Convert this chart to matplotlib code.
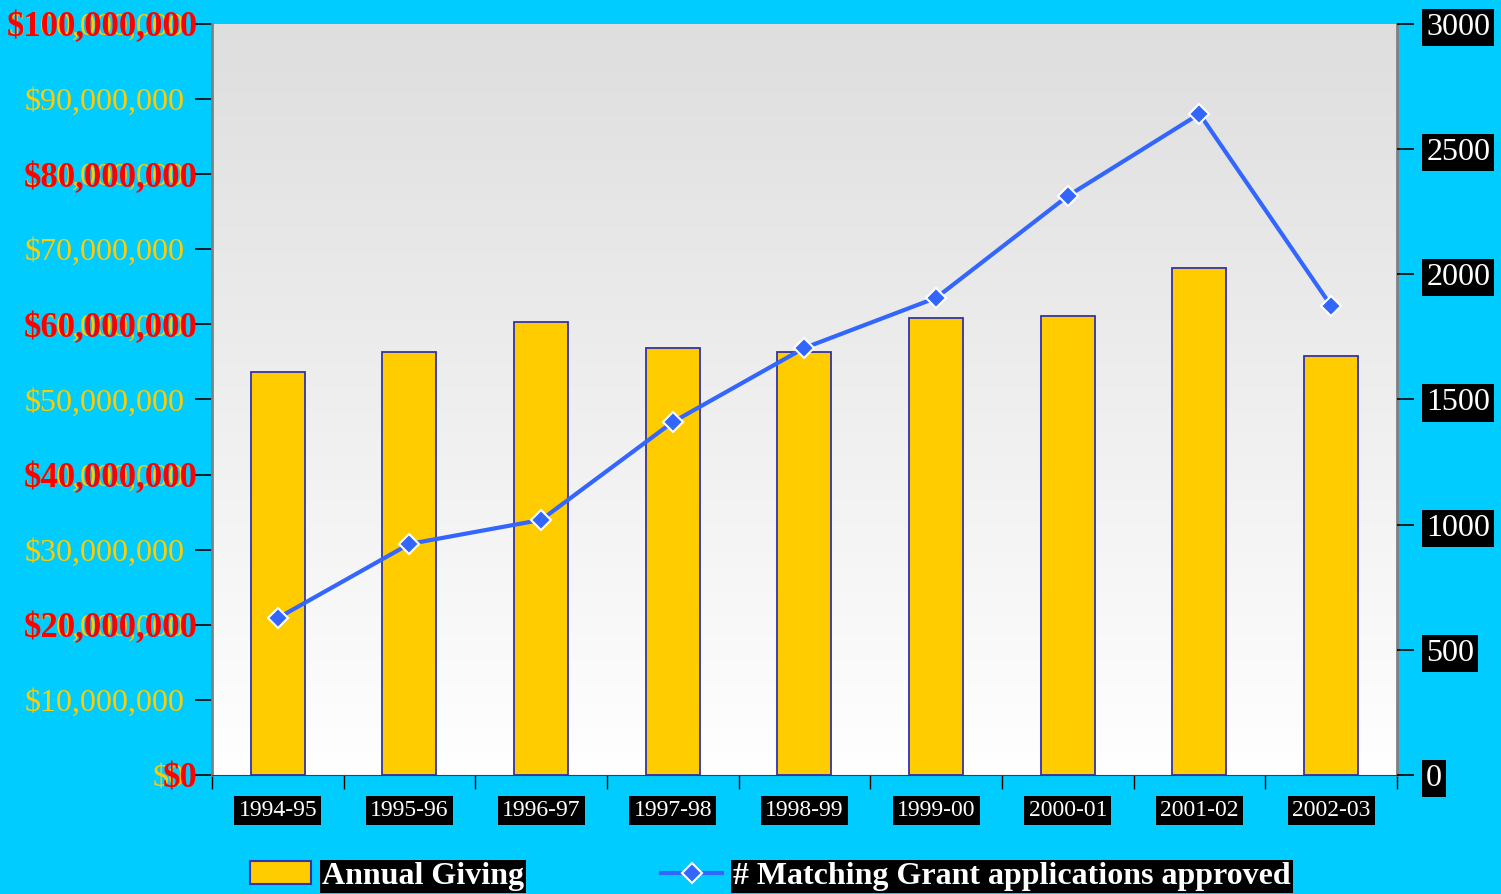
import numpy as np
import matplotlib.pyplot as plt
from matplotlib.patches import Patch
from matplotlib.lines import Line2D
from matplotlib.colors import LinearSegmentedColormap
import matplotlib.transforms as mtransforms

# Dados
anos = ['1994-95', '1995-96', '1996-97', '1997-98', '1998-99',
        '1999-00', '2000-01', '2001-02', '2002-03']
doacoes = [53.7e6, 56.3e6, 60.3e6, 56.9e6, 56.3e6, 60.9e6, 61.1e6, 67.5e6, 55.8e6]
aprovados = [627, 923, 1019, 1410, 1706, 1906, 2313, 2641, 1874]

ticks_esq = np.arange(0, 100e6 + 1, 10e6)
ticks_dir = [0, 500, 1000, 1500, 2000, 2500, 3000]

FUNDO = '#00ccff'
AMARELO = '#ffcc00'
AZUL = '#3366ff'

plt.rcParams['font.family'] = ['Liberation Serif', 'DejaVu Serif']

fig = plt.figure(figsize=(15.01, 8.94), dpi=100, facecolor=FUNDO)
ax = fig.add_axes([0.1412, 0.1331, 0.7895, 0.8401])
x = np.arange(len(anos))

# Fundo em degradê
grad = np.linspace(0, 1, 256).reshape(-1, 1)
ax.imshow(grad, extent=[-0.5, len(anos) - 0.5, 0, 100e6], aspect='auto',
          cmap=LinearSegmentedColormap.from_list('g', ['#ffffff', '#dedede']),
          origin='lower', zorder=0)

ax.bar(x, doacoes, width=0.41, color=AMARELO, edgecolor='#3333aa', linewidth=1.3, zorder=2)
ax.set_xlim(-0.5, len(anos) - 0.5)
ax.set_ylim(0, 100e6)

# Eixo esquerdo: rótulos amarelos
ax.set_yticks(ticks_esq)
ax.set_yticklabels([f'${v:,.0f}' for v in ticks_esq], color=AMARELO, fontsize=23)
ax.tick_params(axis='y', length=12, width=1.2, color='black', pad=8)

# Rótulos vermelhos sobrepostos a cada 20 milhões
trans = mtransforms.blended_transform_factory(ax.transAxes, ax.transData)
for v in ticks_esq[::2]:
    ax.text(-0.012, v, f'${v:,.0f}', color='red', fontsize=25, fontweight='bold',
            ha='right', va='center_baseline', zorder=5, transform=trans, clip_on=False)

# Eixo x
ax.set_xticks(np.arange(-0.5, len(anos), 1))
ax.set_xticklabels([])
ax.set_xticks(x, minor=True)
ax.set_xticklabels(anos, minor=True, color='white', fontsize=17,
                   bbox=dict(facecolor='black', edgecolor='none', pad=3))
ax.tick_params(axis='x', which='major', length=10, width=1, color='black', direction='out')
ax.tick_params(axis='x', which='minor', length=0, pad=18)

for lado in ['left', 'right']:
    ax.spines[lado].set_color('#808080')
    ax.spines[lado].set_linewidth(2)
ax.spines['top'].set_visible(False)
ax.spines['bottom'].set_color('#404040')

# Eixo direito
ax2 = ax.twinx()
ax2.plot(x, aprovados, color=AZUL, linewidth=3, marker='D', markersize=10,
         markerfacecolor=AZUL, markeredgecolor='white', markeredgewidth=1.5, zorder=3)
ax2.set_ylim(0, 3000)
ax2.set_yticks(ticks_dir)
ax2.set_yticklabels([str(v) for v in ticks_dir], color='white', fontsize=23)
for t in ax2.get_yticklabels():
    t.set_bbox(dict(facecolor='black', edgecolor='none', pad=3))
ax2.tick_params(axis='y', length=12, width=1.2, color='black', pad=9)
for lado in ['left', 'right', 'top', 'bottom']:
    ax2.spines[lado].set_visible(False)

# Legenda
handles = [Patch(facecolor=AMARELO, edgecolor='#3333aa', linewidth=1.5),
           Line2D([0], [0], color=AZUL, linewidth=3, marker='D', markersize=10,
                  markerfacecolor=AZUL, markeredgecolor='white', markeredgewidth=1.5)]
leg = fig.legend(handles, ['Annual Giving', '# Matching Grant applications approved'],
                 loc='center left', bbox_to_anchor=(0.1666, 0.02), ncol=2, frameon=False,
                 prop={'size': 23, 'weight': 'bold'}, handlelength=1.9, handletextpad=0.35,
                 columnspacing=4.3, borderpad=0, borderaxespad=0)
for t in leg.get_texts():
    t.set_color('white')
    t.set_bbox(dict(facecolor='black', edgecolor='none', pad=1.5))

fig.savefig('out.png', dpi=100, facecolor=FUNDO)
